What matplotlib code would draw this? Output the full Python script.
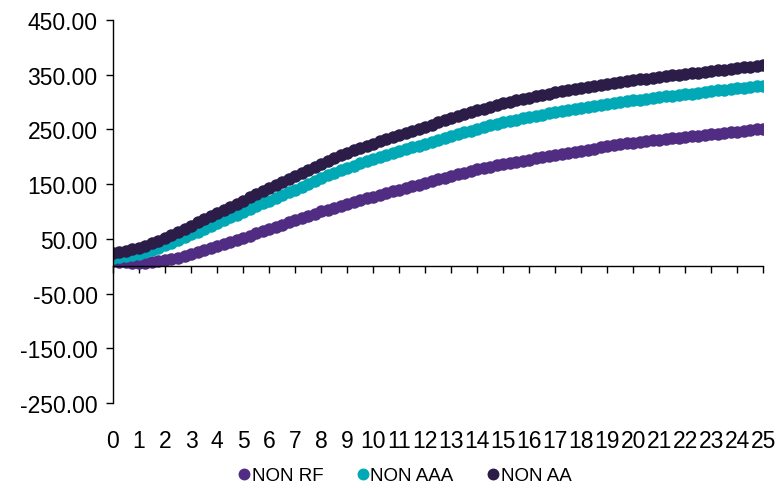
import numpy as np
import matplotlib.pyplot as plt

plt.rcParams['font.family'] = ['Liberation Sans', 'DejaVu Sans']

# quarterly points, years 0..25
years = np.arange(101) * 0.25

non_rf = [9, 8, 7, 6.5, 6,
          6.5, 7.5, 9, 11,
          13, 15.5, 18.5, 22,
          25.5, 29.5, 33, 37,
          40.5, 44.5, 48, 52,
          56, 60, 64, 68,
          72, 76, 80, 84,
          88, 92, 96, 100,
          103.5, 107, 110.5, 114,
          117, 120.5, 124, 127,
          130.5, 133.5, 137, 140,
          143, 146, 149, 152,
          155, 158.5, 162, 165,
          168, 171, 174, 177,
          179.5, 182, 184.5, 187,
          189, 191, 193, 195,
          197, 199, 201, 203,
          205, 207, 209, 211,
          213, 215, 217, 219,
          221, 222.5, 224.5, 226,
          227.5, 228.5, 230, 231,
          232.5, 233.5, 235, 236,
          237.5, 238.5, 240, 241,
          242.5, 243.5, 245, 246,
          247.5, 248.5, 250, 251]

non_aaa = [15, 16.5, 18, 20, 22,
           25.5, 29.5, 33.5, 38,
           42, 47, 52.5, 58,
           63, 68.5, 74, 79,
           84, 89, 94, 99,
           104, 109.5, 115, 120,
           125, 130, 135, 140,
           145.5, 150.5, 156, 161,
           166, 171, 175.5, 180,
           184, 188, 192, 196,
           199.5, 203, 206.5, 210,
           213.5, 217, 220.5, 224,
           227.5, 231, 234.5, 238,
           241.5, 244.8, 248, 251,
           254.2, 257.3, 260.2, 263,
           265.5, 268, 270.2, 272.4,
           274.7, 277, 279.4, 281.6,
           283.7, 285.7, 287.5, 289.3,
           291, 292.7, 294.4, 296,
           297.8, 299.5, 301.3, 303,
           304.5, 306, 307.5, 309,
           310.3, 311.6, 312.8, 314,
           315.5, 317, 318.5, 320,
           321.2, 322.5, 323.8, 325,
           326.3, 327.5, 328.8, 330]

non_aa = [24, 26, 28, 30.5, 33,
          37, 41.5, 46.5, 52,
          57, 62.5, 68, 74,
          80, 86, 92, 98,
          103.5, 109, 114.5, 120,
          126, 131.5, 137, 143,
          148.5, 154, 159.5, 165,
          170.8, 176.5, 182, 187.5,
          192.7, 197.7, 202.5, 207,
          211.5, 215.8, 220, 224,
          228, 232, 236, 240,
          244, 248, 251.5, 255,
          259, 262.8, 266.5, 270,
          273.8, 277.5, 281.2, 284.7,
          288.2, 291.5, 294.8, 298,
          300.6, 303.1, 305.6, 308,
          310.5, 313, 315.5, 318,
          320, 322, 324, 326,
          328, 329.7, 331.4, 333,
          334.8, 336.5, 338.3, 340,
          341.5, 343, 344.5, 346,
          347.3, 348.6, 349.8, 351,
          352.5, 354, 355.5, 357,
          358.3, 359.5, 360.8, 362,
          363.5, 365, 366.5, 368]

labels = ['NON RF', 'NON AAA', 'NON AA']
colors = ['#502D82', '#00A9B5', '#2B1C48']

fig = plt.figure(figsize=(7.79, 4.89), dpi=100)
ax = fig.add_axes([0.145, 0.174, 0.835, 0.783])

for vals, lab, col in zip([non_rf, non_aaa, non_aa], labels, colors):
    ax.plot(years, vals, 'o', color=col, markersize=9, markeredgewidth=0,
            label=lab)

ax.set_xlim(0, 25)
ax.set_ylim(-250, 450)
ax.set_yticks(np.arange(-250, 451, 100))
ax.yaxis.set_major_formatter(plt.FormatStrFormatter('%.2f'))
ax.tick_params(axis='y', direction='out', length=5, width=1, labelsize=16.5, pad=6)

# category axis crosses at zero, labels kept at the bottom
ax.spines['bottom'].set_position(('data', 0))
ax.set_xticks(range(26))
ax.tick_params(axis='x', direction='out', length=5, width=1, labelbottom=False)
ax.spines['top'].set_visible(False)
ax.spines['right'].set_visible(False)
for s in ['left', 'bottom']:
    ax.spines[s].set_color('black')
    ax.spines[s].set_linewidth(1)

sec = ax.secondary_xaxis('bottom')
sec.set_xticks(range(26))
sec.tick_params(length=0, labelsize=16.5, pad=19)
sec.spines['bottom'].set_visible(False)

fig.legend(loc='lower center', bbox_to_anchor=(0.52, 0.0), ncol=3, frameon=False,
           fontsize=13.5, handlelength=0.6, handletextpad=0.1, columnspacing=1.8,
           markerscale=0.95, borderpad=0.1, borderaxespad=0.1)

fig.savefig('out.png', dpi=100)
